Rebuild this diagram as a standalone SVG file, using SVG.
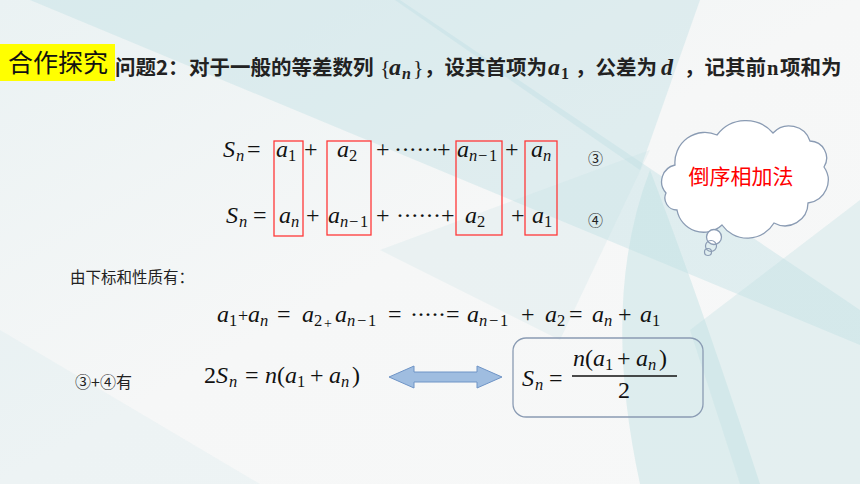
<svg xmlns="http://www.w3.org/2000/svg" width="860" height="484" viewBox="0 0 860 484">
<defs>
<linearGradient id="bg" x1="0" y1="0" x2="1" y2="1">
<stop offset="0" stop-color="#eaf2f3"/>
<stop offset="0.5" stop-color="#f6f7f7"/>
<stop offset="1" stop-color="#f7f8f8"/>
</linearGradient>
<style>
.m{font-family:"Liberation Serif",serif;font-size:24px;fill:#111}
.i{font-style:italic}
.s{font-size:16.5px}
.op{font-size:24px}
.cjk{font-family:"Noto Sans CJK SC",sans-serif}
.hd{font-family:"Noto Sans CJK SC",sans-serif;font-size:20.5px;font-weight:bold;fill:#222}
.hm{font-family:"Liberation Serif",serif;font-weight:bold;font-style:italic;fill:#222;font-size:24px}
.rb{fill:none;stroke:#ff3838;stroke-width:1.3}
.teal{fill:#bfdfe3}
.cl{fill:#ffffff;stroke:#8a9bb3;stroke-width:1.3}
</style>
</defs>
<g id="background">
<rect width="860" height="484" fill="url(#bg)"/>
<polygon class="teal" opacity="0.4" points="30,0 400,0 860,310 860,345"/>
<polygon class="teal" opacity="0.4" points="395,0 700,0 640,170"/>
<polygon class="teal" opacity="0.22" points="380,250 650,150 560,340"/>
<path class="teal" opacity="0.45" d="M650,170 Q600,300 640,484 L760,484 Q700,300 650,170 Z"/>
<polygon class="teal" opacity="0.35" points="690,330 860,200 860,484 740,484"/>
<polygon class="teal" opacity="0.15" points="0,330 260,484 0,484"/>
</g>
<g id="title">
<rect x="0" y="44" width="115" height="37" fill="#ffff00"/>
<text x="8" y="72" class="cjk" font-size="25" fill="#111">合作探究</text>
</g>
<g id="question">
<text class="hd"><tspan x="115" y="75">问题2：</tspan><tspan x="189" y="75">对于一般的等差数列</tspan></text>
<text font-family="Liberation Serif" font-size="22" fill="#222"><tspan x="380" y="75">{</tspan><tspan x="413" y="75">}</tspan></text>
<text class="hm"><tspan x="389" y="75">a</tspan><tspan x="402" y="79" font-size="16">n</tspan></text>
<text class="hd"><tspan x="424" y="75">，设其首项为</tspan></text>
<text class="hm"><tspan x="548" y="75">a</tspan><tspan x="561" y="79" font-size="16" font-style="normal">1</tspan></text>
<text class="hd"><tspan x="575" y="75">，公差为</tspan></text>
<text class="hm"><tspan x="661" y="75">d</tspan></text>
<text class="hd"><tspan x="684" y="75">，记其前</tspan><tspan x="767" y="75" font-family="Liberation Serif">n</tspan><tspan x="780" y="75">项和为</tspan></text>
</g>
<g id="eq3">
<text class="m">
<tspan class="i" x="223" y="157">S</tspan><tspan class="i s" x="236" y="161">n</tspan>
<tspan class="op" x="247" y="157">=</tspan>
<tspan class="i" x="276" y="157">a</tspan><tspan class="s" x="288" y="161">1</tspan>
<tspan class="op" x="304" y="157">+</tspan>
<tspan class="i" x="337" y="157">a</tspan><tspan class="s" x="349" y="161">2</tspan>
<tspan class="op" x="376" y="157">+</tspan>
<tspan x="394" y="157" letter-spacing="-0.6">······</tspan>
<tspan class="op" x="437" y="157">+</tspan>
<tspan class="i" x="457" y="157">a</tspan><tspan class="i s" x="469" y="161">n</tspan><tspan class="s" x="478" y="161">−</tspan><tspan class="s" x="489" y="161">1</tspan>
<tspan class="op" x="505" y="157">+</tspan>
<tspan class="i" x="531" y="157">a</tspan><tspan class="i s" x="543" y="161">n</tspan>
</text>
<text x="588" y="164" class="cjk" font-size="15" fill="#222">③</text>
</g>
<g id="eq4">
<text class="m">
<tspan class="i" x="226" y="223">S</tspan><tspan class="i s" x="239" y="227">n</tspan>
<tspan class="op" x="253" y="223">=</tspan>
<tspan class="i" x="279" y="223">a</tspan><tspan class="i s" x="291" y="227">n</tspan>
<tspan class="op" x="306" y="223">+</tspan>
<tspan class="i" x="328" y="223">a</tspan><tspan class="i s" x="340" y="227">n</tspan><tspan class="s" x="349" y="227">−</tspan><tspan class="s" x="360" y="227">1</tspan>
<tspan class="op" x="376" y="223">+</tspan>
<tspan x="396" y="223" letter-spacing="-0.6">······</tspan>
<tspan class="op" x="441" y="223">+</tspan>
<tspan class="i" x="465" y="223">a</tspan><tspan class="s" x="477" y="227">2</tspan>
<tspan class="op" x="511" y="223">+</tspan>
<tspan class="i" x="532" y="223">a</tspan><tspan class="s" x="544" y="227">1</tspan>
</text>
<text x="588" y="226" class="cjk" font-size="15" fill="#222">④</text>
</g>
<g id="boxes">
<rect class="rb" x="274" y="141" width="29" height="95"/>
<rect class="rb" x="327" y="141" width="44" height="94"/>
<rect class="rb" x="456" y="141" width="46" height="94"/>
<rect class="rb" x="525" y="141" width="32" height="94"/>
</g>
<g id="cloud">
<path class="cl" d="M675,165 A30,30 0 0 1 717,135 A36,36 0 0 1 773,133 A22,22 0 0 1 810,141 A17,17 0 0 1 824,167 A23,23 0 0 1 808,203 A23,23 0 0 1 774,223 A31,31 0 0 1 722,225 A27,27 0 0 1 677,210 A12,12 0 0 1 666,193 A17,17 0 0 1 675,165 Z"/>
<circle class="cl" cx="714" cy="237" r="7.5"/>
<circle cx="711" cy="246" r="5.5" fill="none" stroke="#8a9bb3" stroke-width="1.2"/>
<circle cx="708" cy="252" r="3.5" fill="none" stroke="#8a9bb3" stroke-width="1.2"/>
<text x="741" y="184" class="cjk" font-size="21" fill="#ff0000" text-anchor="middle">倒序相加法</text>
</g>
<g id="property">
<text x="70" y="283" class="cjk" font-size="15.5" fill="#222">由下标和性质有：</text>
<text class="m">
<tspan class="i" x="217" y="322">a</tspan><tspan class="s" x="229" y="326">1</tspan>
<tspan x="238" y="322" font-size="18">+</tspan>
<tspan class="i" x="248" y="322">a</tspan><tspan class="i s" x="260" y="326">n</tspan>
<tspan class="op" x="277" y="322">=</tspan>
<tspan class="i" x="302" y="322">a</tspan><tspan class="s" x="314" y="326">2</tspan>
<tspan x="324" y="328" font-size="14">+</tspan>
<tspan class="i" x="335" y="322">a</tspan><tspan class="i s" x="347" y="326">n</tspan><tspan class="s" x="357" y="326">−</tspan><tspan class="s" x="368" y="326">1</tspan>
<tspan class="op" x="388" y="322">=</tspan>
<tspan x="410" y="322" letter-spacing="-1">·····</tspan>
<tspan class="op" x="446" y="322">=</tspan>
<tspan class="i" x="467" y="322">a</tspan><tspan class="i s" x="479" y="326">n</tspan><tspan class="s" x="489" y="326">−</tspan><tspan class="s" x="500" y="326">1</tspan>
<tspan class="op" x="521" y="322">+</tspan>
<tspan class="i" x="545" y="322">a</tspan><tspan class="s" x="557" y="326">2</tspan>
<tspan class="op" x="569" y="322">=</tspan>
<tspan class="i" x="592" y="322">a</tspan><tspan class="i s" x="604" y="326">n</tspan>
<tspan class="op" x="618" y="322">+</tspan>
<tspan class="i" x="640" y="322">a</tspan><tspan class="s" x="652" y="326">1</tspan>
</text>
</g>
<g id="sum">
<text x="75" y="388" class="cjk" font-size="16" fill="#222">③+④有</text>
<text class="m">
<tspan x="204" y="383">2</tspan><tspan class="i" x="216" y="383">S</tspan><tspan class="i s" x="229" y="387">n</tspan>
<tspan class="op" x="245" y="383">=</tspan>
<tspan class="i" x="265" y="383">n</tspan><tspan x="277" y="383">(</tspan>
<tspan class="i" x="285" y="383">a</tspan><tspan class="s" x="297" y="387">1</tspan>
<tspan class="op" x="310" y="383">+</tspan>
<tspan class="i" x="329" y="383">a</tspan><tspan class="i s" x="341" y="387">n</tspan>
<tspan x="352" y="383">)</tspan>
</text>
</g>
<g id="connectors">
<path d="M389,377 L414,366 L414,372 L477,372 L477,366 L502,377 L477,388 L477,382 L414,382 L414,388 Z" fill="#9fbde0" stroke="#6f94c6" stroke-width="1"/>
</g>
<g id="result">
<rect x="513" y="338" width="190" height="79" rx="13" ry="13" fill="none" stroke="#8a9bb3" stroke-width="1.3"/>
<text class="m">
<tspan class="i" x="522" y="386">S</tspan><tspan class="i s" x="535" y="390">n</tspan>
<tspan class="op" x="549" y="386">=</tspan>
<tspan class="i" x="573" y="366">n</tspan><tspan x="585" y="366">(</tspan>
<tspan class="i" x="593" y="366">a</tspan><tspan class="s" x="605" y="370">1</tspan>
<tspan class="op" x="617" y="366">+</tspan>
<tspan class="i" x="636" y="366">a</tspan><tspan class="i s" x="648" y="370">n</tspan>
<tspan x="659" y="366">)</tspan>
<tspan x="618" y="398">2</tspan>
</text>
<line x1="572" y1="376" x2="677" y2="376" stroke="#111" stroke-width="1.3"/>
</g>
</svg>
